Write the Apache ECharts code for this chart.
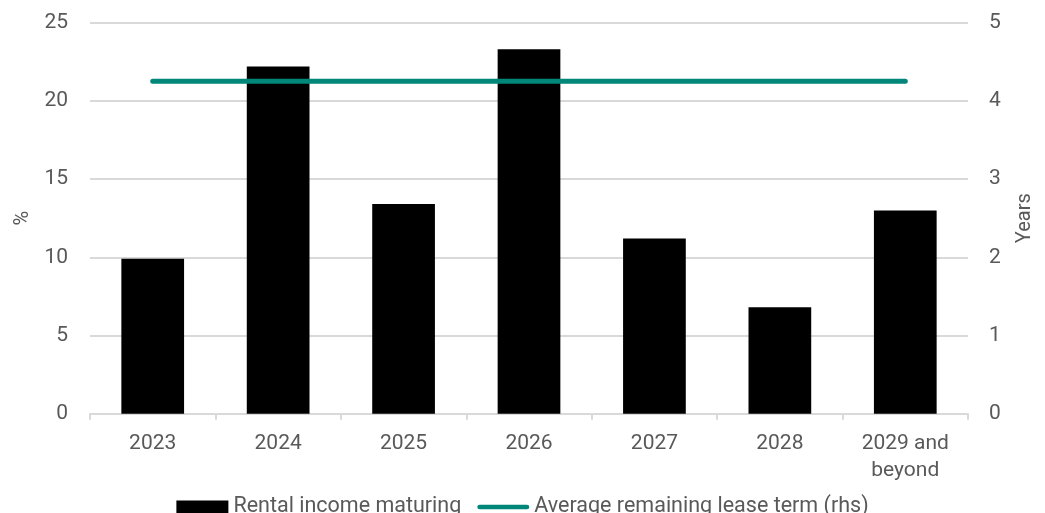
<!DOCTYPE html>
<html>
<head>
<meta charset="utf-8">
<script src="https://cdn.jsdelivr.net/npm/echarts@6/dist/echarts.min.js"></script>
<style>
  html, body { margin: 0; padding: 0; background: #ffffff; }
  #chart { width: 1045px; height: 513px; }
</style>
</head>
<body>
<div id="chart"></div>
<script>
// Lease expiry profile: share of rental income maturing per year, and average remaining lease term
const categories = ['2023', '2024', '2025', '2026', '2027', '2028', '2029 and\nbeyond'];
const rentalIncomeMaturing = [9.9, 22.2, 13.4, 23.3, 11.2, 6.8, 13.0];   // %
const avgRemainingLeaseTerm = [4.25, 4.25, 4.25, 4.25, 4.25, 4.25, 4.25]; // years
const leftTicks = { min: 0, max: 25, interval: 5 };
const rightTicks = { min: 0, max: 5, interval: 1 };

const textColor = '#595959';
const gridColor = '#d9d9d9';
const lineColor = '#00877a';
const font = 'Roboto, "Liberation Sans", Arial, sans-serif';

// rounded bar used as the legend marker of the line series
const roundLineIcon = 'path://M2.5,0 H53.5 A2.5,2.5 0 0 1 53.5,5 H2.5 A2.5,2.5 0 0 1 2.5,0 Z';

const chart = echarts.init(document.getElementById('chart'), null, { renderer: 'canvas' });

chart.setOption({
  animation: false,
  backgroundColor: '#ffffff',
  textStyle: { fontFamily: font, color: textColor },
  grid: { left: 90, right: 77, top: 22.7, bottom: 99.3, containLabel: false },
  legend: {
    left: 'center',
    top: 491,
    itemGap: 16,
    itemWidth: 52,
    itemHeight: 13,
    textStyle: { fontSize: 21.5, color: textColor, fontFamily: font },
    data: [
      { name: 'Rental income maturing', icon: 'rect' },
      { name: 'Average remaining lease term (rhs)', icon: roundLineIcon, itemStyle: { color: lineColor } }
    ]
  },
  xAxis: {
    type: 'category',
    data: categories,
    axisLine: { lineStyle: { color: gridColor, width: 2 } },
    axisTick: { show: true, length: 6, lineStyle: { color: gridColor, width: 2 } },
    axisLabel: { color: textColor, fontSize: 21, margin: 17, lineHeight: 27, fontFamily: font }
  },
  yAxis: [
    {
      type: 'value',
      min: leftTicks.min, max: leftTicks.max, interval: leftTicks.interval,
      name: '%',
      nameLocation: 'middle',
      nameGap: 56,
      nameRotate: 90,
      nameTextStyle: { color: textColor, fontSize: 20, fontFamily: font },
      axisLine: { show: false },
      axisTick: { show: false },
      axisLabel: { color: textColor, fontSize: 21, margin: 22, fontFamily: font },
      splitLine: { lineStyle: { color: gridColor, width: 2 } }
    },
    {
      type: 'value',
      min: rightTicks.min, max: rightTicks.max, interval: rightTicks.interval,
      name: 'Years',
      nameLocation: 'middle',
      nameGap: 47,
      nameRotate: 90,
      nameTextStyle: { color: textColor, fontSize: 20, fontFamily: font },
      axisLine: { show: false },
      axisTick: { show: false },
      axisLabel: { color: textColor, fontSize: 21, margin: 21, fontFamily: font },
      splitLine: { show: false }
    }
  ],
  series: [
    {
      name: 'Rental income maturing',
      type: 'bar',
      yAxisIndex: 0,
      data: rentalIncomeMaturing,
      barWidth: '50%',
      itemStyle: { color: '#000000' }
    },
    {
      name: 'Average remaining lease term (rhs)',
      type: 'line',
      yAxisIndex: 1,
      data: avgRemainingLeaseTerm,
      symbol: 'none',
      lineStyle: { color: lineColor, width: 5, cap: 'round' },
      itemStyle: { color: lineColor }
    }
  ]
});
</script>
</body>
</html>
